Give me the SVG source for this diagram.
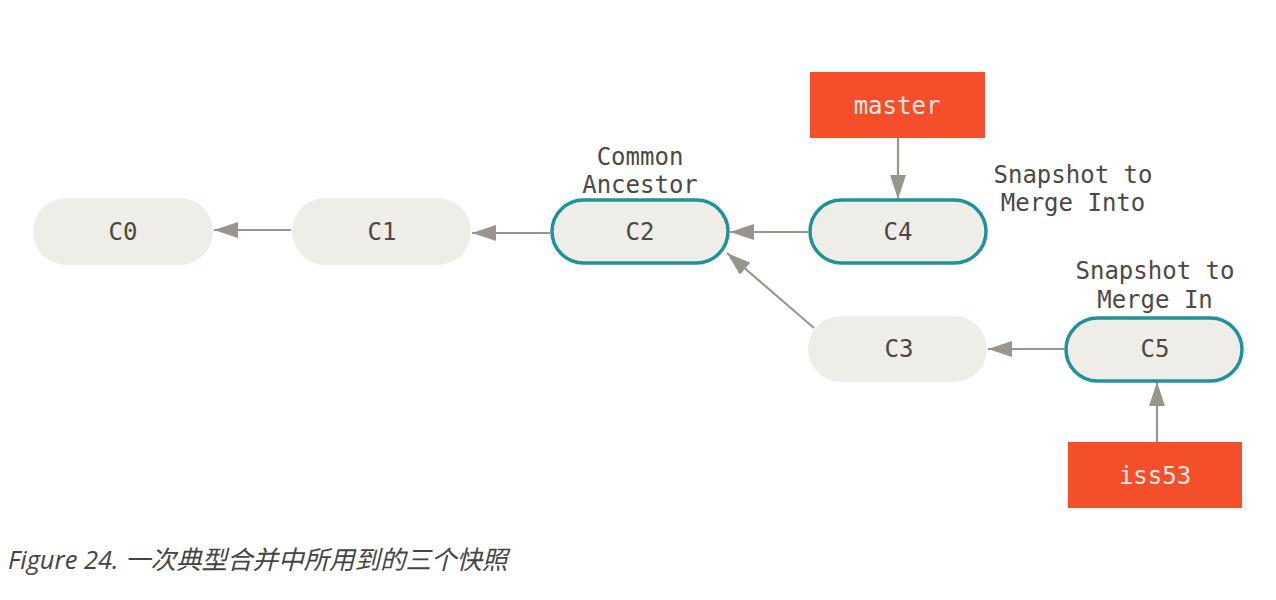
<svg xmlns="http://www.w3.org/2000/svg" width="1276" height="600" viewBox="0 0 1276 600">
<defs>
<style>
.n{fill:#eeede7}
.h{fill:#eeede7;stroke:#20929b;stroke-width:3.5}
.r{fill:#f44f2a}
.t{font-family:"DejaVu Sans Mono",monospace;font-size:24px;fill:#4d4844;text-anchor:middle}
.w{font-family:"DejaVu Sans Mono",monospace;font-size:24px;fill:#fbe9e3;text-anchor:middle}
.c line{stroke:#9a948e;stroke-width:2.2;marker-end:url(#a)}
.cap{font-family:"Open Sans","Noto Sans CJK SC",sans-serif;font-style:italic;font-size:25.5px;fill:#444}
</style>
<marker id="a" viewBox="0 0 24 16" refX="24" refY="8" markerWidth="24" markerHeight="16" markerUnits="userSpaceOnUse" orient="auto">
<path d="M0,0 L24,8 L0,16 z" fill="#9a948e"/>
</marker>
</defs>
<g class="c" id="connectors">
<line x1="291" y1="230" x2="214" y2="230"/>
<line x1="550" y1="233" x2="472" y2="233"/>
<line x1="808" y1="232" x2="730" y2="232"/>
<line x1="814" y1="328" x2="727" y2="253"/>
<line x1="1064" y1="349" x2="988" y2="349"/>
<line x1="898" y1="138" x2="898" y2="199"/>
<line x1="1157" y1="442" x2="1157" y2="382"/>
</g>
<g id="C0"><rect class="n" x="33" y="198" width="180" height="67" rx="33.5"/><text class="t" x="123" y="240">C0</text></g>
<g id="C1"><rect class="n" x="292" y="198" width="179" height="67" rx="33.5"/><text class="t" x="382" y="240">C1</text></g>
<g id="C2"><rect class="h" x="552" y="200" width="176" height="63" rx="31.5"/><text class="t" x="640" y="240">C2</text>
<text class="t" x="640" y="165">Common</text><text class="t" x="640" y="193">Ancestor</text></g>
<g id="C4"><rect class="h" x="810" y="200" width="176" height="63" rx="31.5"/><text class="t" x="898" y="240">C4</text>
<text class="t" x="1073" y="183">Snapshot to</text><text class="t" x="1073" y="211">Merge Into</text></g>
<g id="C3"><rect class="n" x="808" y="316" width="179" height="66" rx="33"/><text class="t" x="899" y="357">C3</text></g>
<g id="C5"><rect class="h" x="1066" y="318" width="176" height="63" rx="31.5"/><text class="t" x="1155" y="357">C5</text>
<text class="t" x="1155" y="279">Snapshot to</text><text class="t" x="1155" y="308">Merge In</text></g>
<g id="master"><rect class="r" x="810" y="72" width="175" height="66"/><text class="w" x="897" y="114">master</text></g>
<g id="iss53"><rect class="r" x="1068" y="442" width="174" height="66"/><text class="w" x="1155" y="484">iss53</text></g>
<text class="cap" x="8" y="569">Figure 24. 一次典型合并中所用到的三个快照</text>
</svg>
